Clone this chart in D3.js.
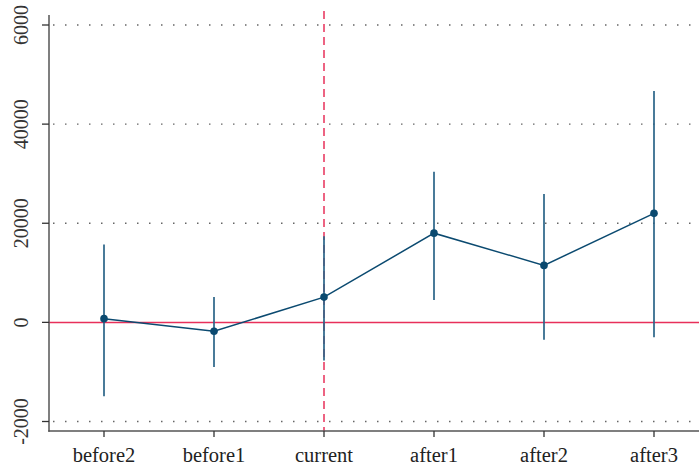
<!DOCTYPE html>
<html>
<head>
<meta charset="utf-8">
<script src="https://cdn.jsdelivr.net/npm/d3@7"></script>
<style>
  body { margin: 0; background: #fff; }
  svg { display: block; }
</style>
</head>
<body>
<div id="chart"></div>
<script>
// event-study coefficients with confidence intervals
const periods = ["before2", "before1", "current", "after1", "after2", "after3"];
const coef = [750, -1800, 5100, 18000, 11500, 22000];
const ciLow = [-14900, -9000, -7700, 4500, -3500, -3000];
const ciHigh = [15700, 5100, 17400, 30400, 25900, 46700];
const yTicks = [60000, 40000, 20000, 0, -20000];
const yTickLabels = ["6000", "40000", "20000", "0", "-2000"];
const eventPeriod = "current";

const width = 699, height = 468;
const margin = { left: 49, right: 699, top: 15, bottom: 431 };
const fontFamily = "Liberation Serif";

const rows = periods.map((p, i) => ({ p, b: coef[i], lo: ciLow[i], hi: ciHigh[i] }));

const x = d3.scalePoint().domain(periods).range([104, 654]);
const y = d3.scaleLinear().domain([-20000, 60000]).range([421.5, 25]);

const svg = d3.select("#chart").append("svg")
  .attr("width", width)
  .attr("height", height);

const axisColor = "#555";
const red = "#e8305a";
const navy = "#0b4a70";

// dotted gridlines
svg.append("g")
  .selectAll("line")
  .data(yTicks.filter((d) => d !== 0))
  .join("line")
  .attr("x1", margin.left + 4)
  .attr("x2", margin.right)
  .attr("y1", (d) => y(d))
  .attr("y2", (d) => y(d))
  .attr("stroke", "#666")
  .attr("stroke-width", 1.3)
  .attr("stroke-dasharray", "1.5,10.5");

// zero line
svg.append("line")
  .attr("x1", margin.left)
  .attr("x2", margin.right)
  .attr("y1", y(0))
  .attr("y2", y(0))
  .attr("stroke", red)
  .attr("stroke-width", 1.5);

// event line
svg.append("line")
  .attr("x1", x(eventPeriod))
  .attr("x2", x(eventPeriod))
  .attr("y1", 11)
  .attr("y2", margin.bottom)
  .attr("stroke", red)
  .attr("stroke-width", 1.5)
  .attr("stroke-dasharray", "8,5");

// confidence intervals
svg.append("g")
  .selectAll("line")
  .data(rows)
  .join("line")
  .attr("x1", (d) => x(d.p))
  .attr("x2", (d) => x(d.p))
  .attr("y1", (d) => y(d.hi))
  .attr("y2", (d) => y(d.lo))
  .attr("stroke", "#2a6488")
  .attr("stroke-width", 1.7);

// coefficient line + points
svg.append("path")
  .datum(rows)
  .attr("fill", "none")
  .attr("stroke", navy)
  .attr("stroke-width", 1.5)
  .attr("d", d3.line().x((d) => x(d.p)).y((d) => y(d.b)));

svg.append("g")
  .selectAll("circle")
  .data(rows)
  .join("circle")
  .attr("cx", (d) => x(d.p))
  .attr("cy", (d) => y(d.b))
  .attr("r", 3.8)
  .attr("fill", navy);

// y axis
const gy = svg.append("g");
gy.append("line")
  .attr("x1", margin.left).attr("x2", margin.left)
  .attr("y1", margin.top).attr("y2", margin.bottom + 0.75)
  .attr("stroke", axisColor)
  .attr("stroke-width", 1.5);
gy.selectAll(".tick")
  .data(yTicks)
  .join("line")
  .attr("class", "tick")
  .attr("x1", margin.left - 7)
  .attr("x2", margin.left)
  .attr("y1", (d) => y(d))
  .attr("y2", (d) => y(d))
  .attr("stroke", "#333")
  .attr("stroke-width", 1.3);
gy.selectAll("text")
  .data(yTicks)
  .join("text")
  .attr("transform", (d) => `translate(27.5,${y(d)}) rotate(-90)`)
  .attr("text-anchor", "middle")
  .attr("font-family", fontFamily)
  .attr("font-size", 20)
  .attr("fill", "#333")
  .text((d, i) => yTickLabels[i]);

// x axis
const gx = svg.append("g");
gx.append("line")
  .attr("x1", margin.left - 0.75).attr("x2", margin.right)
  .attr("y1", margin.bottom).attr("y2", margin.bottom)
  .attr("stroke", axisColor)
  .attr("stroke-width", 1.5);
gx.selectAll(".tick")
  .data(periods)
  .join("line")
  .attr("class", "tick")
  .attr("x1", (d) => x(d))
  .attr("x2", (d) => x(d))
  .attr("y1", margin.bottom)
  .attr("y2", margin.bottom + 6)
  .attr("stroke", "#333")
  .attr("stroke-width", 1.3);
gx.selectAll("text")
  .data(periods)
  .join("text")
  .attr("x", (d) => x(d))
  .attr("y", 462)
  .attr("text-anchor", "middle")
  .attr("font-family", fontFamily)
  .attr("font-size", 20.5)
  .attr("fill", "#222")
  .text((d) => d);
</script>
</body>
</html>
